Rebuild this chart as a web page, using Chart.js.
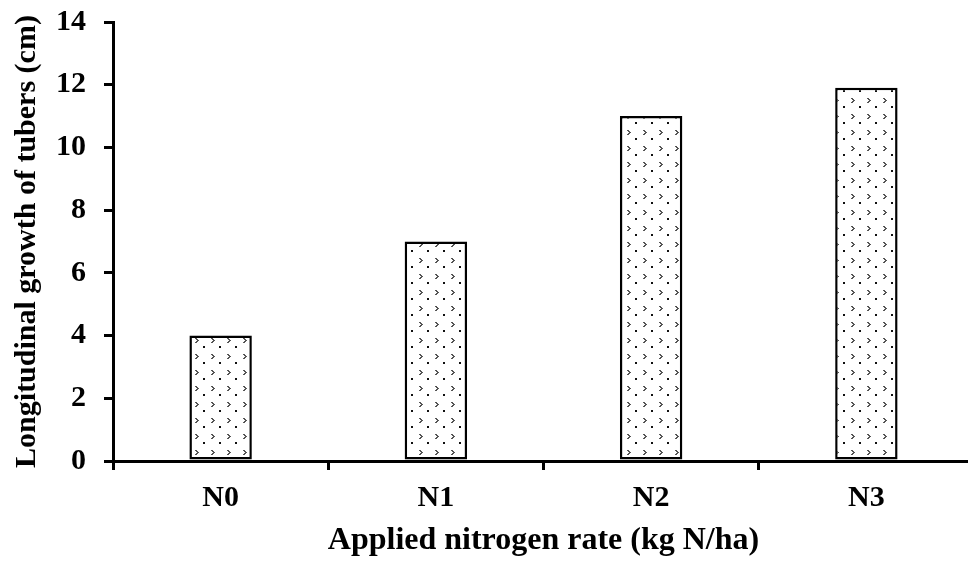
<!DOCTYPE html>
<html>
<head>
<meta charset="utf-8">
<script src="https://cdn.jsdelivr.net/npm/chart.js@4"></script>
<style>
html,body{margin:0;padding:0;background:#fff;overflow:hidden;}
#wrap{position:relative;width:974px;height:567px;}
</style>
</head>
<body>
<div id="wrap"><canvas id="c"></canvas></div>
<script>
const categories = ["N0", "N1", "N2", "N3"];
const growthValues = [4, 7, 11, 11.9];
const yTicks = [0, 2, 4, 6, 8, 10, 12, 14];
const xTitle = "Applied nitrogen rate (kg N/ha)";
const yTitle = "Longitudinal growth of tubers (cm)";

function makePattern() {
  const p = document.createElement('canvas');
  p.width = 16; p.height = 16;
  const g = p.getContext('2d');
  g.fillStyle = '#fff';
  g.fillRect(0, 0, 16, 16);
  g.fillStyle = '#555';
  // ">" mark
  g.fillRect(3, 2, 2, 1);
  g.fillRect(4, 3, 2, 1);
  g.fillRect(5, 4, 2, 1);
  g.fillRect(4, 5, 2, 1);
  g.fillRect(3, 6, 2, 1);
  g.fillStyle = '#111';
  g.fillRect(11, 10, 2, 2);
  const ctx = document.getElementById('c').getContext('2d');
  return ctx.createPattern(p, 'repeat');
}

const font = "'Liberation Serif', 'Times New Roman', serif";

new Chart(document.getElementById('c'), {
  type: 'bar',
  data: {
    labels: categories,
    datasets: [{
      data: growthValues,
      backgroundColor: makePattern(),
      borderColor: '#000',
      borderWidth: 2.5,
      borderSkipped: false,
      barPercentage: 0.29,
      categoryPercentage: 1.0
    }]
  },
  options: {
    responsive: true,
    maintainAspectRatio: false,
    animation: false,
    layout: { padding: { top: 22, right: 0, left: 0, bottom: 0 } },
    plugins: { legend: { display: false }, tooltip: { enabled: false } },
    scales: {
      x: {
        offset: true,
        grid: { offset: true, drawOnChartArea: false, drawTicks: true, tickLength: 9, lineWidth: 3, color: '#000' },
        border: { display: true, width: 3, color: '#000' },
        ticks: { color: '#000', padding: 10, font: { family: font, size: 30, weight: 'bold' } },
        title: { display: true, text: xTitle, color: '#000', padding: { top: 0, bottom: 7 }, font: { family: font, size: 32, weight: 'bold' } },
        afterFit: s => { s.height = 106; s.paddingLeft = 0; s.paddingRight = 0; }
      },
      y: {
        min: 0, max: 14,
        afterBuildTicks: s => { s.ticks = yTicks.map(v => ({ value: v })); },
        grid: { drawOnChartArea: false, drawTicks: true, tickLength: 9, lineWidth: 3, color: '#000' },
        border: { display: true, width: 3, color: '#000' },
        ticks: { color: '#000', padding: 18, font: { family: font, size: 30, weight: 'bold' } },
        title: { display: true, text: yTitle, color: '#000', padding: { top: 9, bottom: 0 }, font: { family: font, size: 30, weight: 'bold' } },
        afterFit: s => { s.width = 113; s.paddingTop = 0; s.paddingBottom = 0; }
      }
    }
  }
});
</script>
</body>
</html>
